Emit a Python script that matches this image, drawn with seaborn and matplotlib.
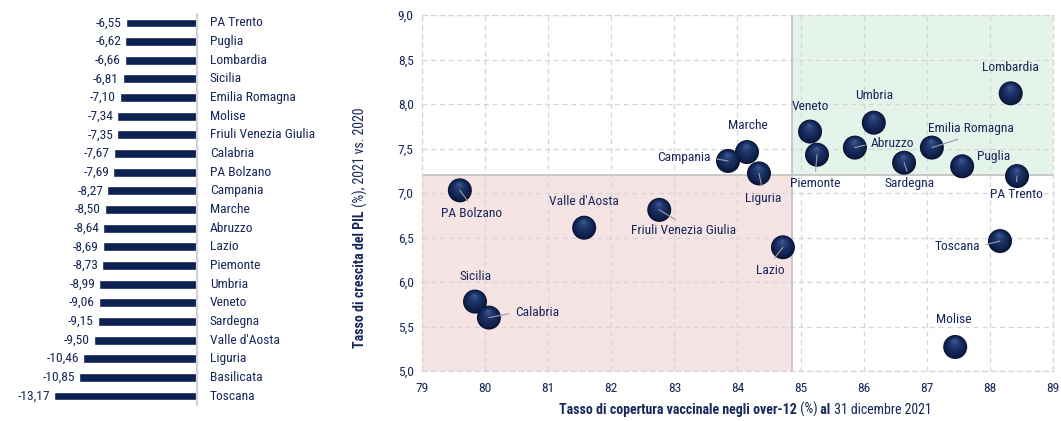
import numpy as np
import pandas as pd
import matplotlib
matplotlib.use("Agg")
import matplotlib.pyplot as plt
import matplotlib.transforms as mtransforms
from matplotlib import font_manager
from matplotlib.ticker import FuncFormatter, MultipleLocator
import seaborn as sns

# ---------------- data ----------------
bar_regions = ["PA Trento", "Puglia", "Lombardia", "Sicilia", "Emilia Romagna", "Molise",
               "Friuli Venezia Giulia", "Calabria", "PA Bolzano", "Campania", "Marche",
               "Abruzzo", "Lazio", "Piemonte", "Umbria", "Veneto", "Sardegna",
               "Valle d'Aosta", "Liguria", "Basilicata", "Toscana"]
bar_values = [-6.55, -6.62, -6.66, -6.81, -7.10, -7.34, -7.35, -7.67, -7.69, -8.27, -8.50,
              -8.64, -8.69, -8.73, -8.99, -9.06, -9.15, -9.50, -10.46, -10.85, -13.17]

sc_regions = ["PA Bolzano", "Valle d'Aosta", "Friuli Venezia Giulia", "Sicilia", "Calabria",
              "Campania", "Marche", "Liguria", "Lazio", "Veneto", "Piemonte", "Abruzzo",
              "Umbria", "Sardegna", "Emilia Romagna", "Puglia", "Lombardia", "PA Trento",
              "Toscana", "Molise"]
sc_vacc = [79.60, 81.57, 82.76, 79.84, 80.06, 83.85, 84.15, 84.34, 84.72, 85.15, 85.26,
           85.86, 86.16, 86.64, 87.08, 87.56, 88.33, 88.43, 88.16, 87.45]
sc_pil = [7.03, 6.61, 6.81, 5.78, 5.60, 7.36, 7.46, 7.22, 6.39, 7.69, 7.43,
          7.51, 7.79, 7.34, 7.51, 7.30, 8.12, 7.19, 6.46, 5.27]

x_split = 84.87
y_split = 7.20

# label placement (pixel offsets, alignment, leader relpos or None)
label_style = {
    "PA Bolzano": (12, -23, "center", (0.5, 1)),
    "Valle d'Aosta": (0, 26, "center", None),
    "Friuli Venezia Giulia": (24, -21, "center", (0.5, 1)),
    "Sicilia": (1, 25, "center", None),
    "Calabria": (26, 5, "left", (0, 0.5)),
    "Campania": (-17, 3, "right", (1, 0.5)),
    "Marche": (1, 27, "center", None),
    "Liguria": (4, -25, "center", (0.5, 1)),
    "Lazio": (-13, -23, "center", (0.5, 1)),
    "Veneto": (0, 25, "center", None),
    "Piemonte": (-2, -29, "center", (0.5, 1)),
    "Abruzzo": (16, 4, "left", (0, 0.5)),
    "Umbria": (0, 27, "center", None),
    "Sardegna": (5, -21, "center", (0.5, 1)),
    "Emilia Romagna": (39, 19, "center", (0.5, 0)),
    "Puglia": (31, 10, "center", None),
    "Lombardia": (0, 26, "center", None),
    "PA Trento": (-1, -18, "center", (0.5, 1)),
    "Toscana": (-20, -5, "right", (1, 0.5)),
    "Molise": (-1, 27, "center", None),
}

# ---------------- style ----------------
sns.set_theme(style="white")
available = {f.name for f in font_manager.fontManager.ttflist}
narrow = None
for cand in ["Liberation Sans Narrow", "Arial Narrow", "Roboto Condensed",
             "DejaVu Sans Condensed", "Open Sans Condensed"]:
    if cand in available:
        narrow = cand
        break
if narrow is not None:
    plt.rcParams["font.family"] = [narrow, "Liberation Sans", "DejaVu Sans"]
    FS = 9.7
    FSL = 10.0
else:
    plt.rcParams["font.family"] = ["Liberation Sans", "DejaVu Sans"]
    FS = 9.0
    FSL = 8.6

NAVY = "#0d2252"
TXT = "#17275a"
W, H = 1061, 421
DPI = 100
fig = plt.figure(figsize=(W / DPI, H / DPI), dpi=DPI)
fig.patch.set_facecolor("white")
PX = 72.0 / DPI  # points per pixel

# ---------------- left bar chart ----------------
df_bar = pd.DataFrame({"region": bar_regions, "value": bar_values})
row = 18.65
n = len(bar_regions)
axb_h = n * row
axb_top = 23 - row / 2
axb = fig.add_axes([0, (H - axb_top - axb_h) / H, 197 / W, axb_h / H])
sns.barplot(data=df_bar, x="value", y="region", orient="h", color=NAVY,
            width=0.48, ax=axb, saturation=1)
axb.set_xlim(-197 / 10.86, 0)
axb.set_ylim(n - 0.5, -0.5)
axb.axis("off")
axb.plot([1.0, 1.0], [0, 1], transform=axb.transAxes, color="#d4d4d4", lw=1.6,
         clip_on=False)
for i, (r, v) in enumerate(zip(bar_regions, bar_values)):
    axb.annotate(f"{v:.2f}".replace(".", ","), xy=(v, i), xytext=(-4 * PX, 0),
                 textcoords="offset points", ha="right", va="center",
                 fontsize=FS, color=TXT, annotation_clip=False)
    axb.annotate(r, xy=(0, i), xytext=(13 * PX, 0), textcoords="offset points",
                 ha="left", va="center", fontsize=FS, color=TXT, annotation_clip=False)

# ---------------- scatter ----------------
x0, x1, y0, y1 = 79, 89, 5.0, 9.0
ax = fig.add_axes([422 / W, (H - 371) / H, (1053 - 422) / W, (371 - 15) / H])
df_sc = pd.DataFrame({"region": sc_regions, "vacc": sc_vacc, "pil": sc_pil})
d_pt = 24 * PX
sns.scatterplot(data=df_sc, x="vacc", y="pil", s=d_pt ** 2, color="#0a1534",
                edgecolor="none", linewidth=0, ax=ax, zorder=2, legend=False)
layers = [(0.90, "#0f1e48"), (0.78, "#132552"), (0.64, "#182c5d"), (0.50, "#1e3468"),
          (0.37, "#253d74"), (0.25, "#2e4780"), (0.14, "#3a548c")]
for frac, col in layers:
    shift = (1 - frac) * d_pt / 2
    off = mtransforms.ScaledTranslation(-0.05 * shift / 72, 0.55 * shift / 72,
                                        fig.dpi_scale_trans)
    ax.scatter(df_sc["vacc"], df_sc["pil"], s=(d_pt * frac) ** 2, color=col,
               edgecolor="none", linewidth=0, zorder=2.1, transform=ax.transData + off)

ax.set_xlim(x0, x1)
ax.set_ylim(y0, y1)
ax.set_xlabel("")
ax.set_ylabel("")
ax.set_axisbelow(True)
ax.fill_between([x0, x_split], y0, y_split, color="#f6e3e4", zorder=0, lw=0)
ax.fill_between([x_split, x1], y_split, y1, color="#e4f4ea", zorder=0, lw=0)
ax.grid(True, color="#d6d6d6", lw=0.9, ls=(0, (4, 3)))
for s in ax.spines.values():
    s.set_color("#d6d6d6")
    s.set_linestyle((0, (4, 3)))
    s.set_linewidth(0.9)
ax.axhline(y_split, color="#c4c4c4", lw=1.3, zorder=0.8)
ax.plot([x_split, x_split], [y0, y1], color="#c4c4c4", lw=1.3, zorder=0.8)

ax.xaxis.set_major_locator(MultipleLocator(1))
ax.yaxis.set_major_locator(MultipleLocator(0.5))
ax.yaxis.set_major_formatter(FuncFormatter(lambda v, p: f"{v:.1f}".replace(".", ",")))
ax.tick_params(axis="both", length=0, labelsize=FS, labelcolor=TXT)
ax.tick_params(axis="x", pad=8)
ax.tick_params(axis="y", pad=6)

for r, xv, yv in zip(sc_regions, sc_vacc, sc_pil):
    dx, dy, ha, rel = label_style[r]
    kw = {}
    if rel is not None:
        kw["arrowprops"] = dict(arrowstyle="-", color="#9a9ea8", lw=0.8, shrinkA=2,
                                shrinkB=0, relpos=rel)
    ax.annotate(r, xy=(xv, yv), xytext=(dx * PX, dy * PX), textcoords="offset points",
                ha=ha, va="center", fontsize=FS, color=TXT, zorder=3, **kw)

# ---------------- axis labels (mixed weight) ----------------
def chain(pieces, x, y, rot):
    t = fig.text(x, y, pieces[0][0], fontweight=pieces[0][1], fontsize=FSL, color=TXT,
                 rotation=rot, ha="left" if rot == 0 else "center",
                 va="center" if rot == 0 else "bottom")
    for s, w in pieces[1:]:
        if rot == 0:
            t = ax.annotate(s, xy=(1, 0), xycoords=t, ha="left", va="bottom",
                            fontweight=w, fontsize=FSL, color=TXT)
        else:
            t = ax.annotate(s, xy=(0.5, 1), xycoords=t, ha="center", va="bottom",
                            rotation=90, fontweight=w, fontsize=FSL, color=TXT)

chain([("Tasso di copertura vaccinale negli over-12", "bold"), (" (%)", "normal"),
       (" al", "bold"), (" 31 dicembre 2021", "normal")], 559 / W, (H - 410) / H, 0)
chain([("Tasso di crescita del PIL", "bold"), (" (%), 2021 vs. 2020", "normal")],
      360 / W, (H - 348) / H, 90)

fig.savefig("out.png", dpi=DPI, facecolor="white")
